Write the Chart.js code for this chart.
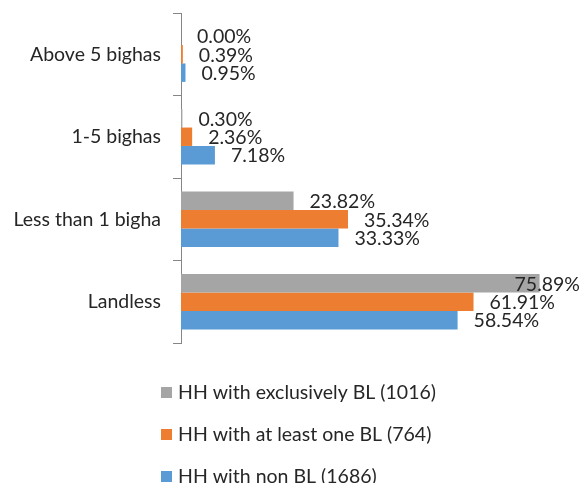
<!DOCTYPE html>
<html>
<head>
<meta charset="utf-8">
<script src="https://cdn.jsdelivr.net/npm/chart.js@4/dist/chart.umd.min.js"></script>
<style>
	html, body { margin:0; padding:0; background:#fff; }
	#box { width:582px; height:483px; position:relative; }
</style>
</head>
<body>
<div id="box"><canvas id="mycanvas"></canvas></div>
<script>
var categories = ["Above 5 bighas", "1-5 bighas", "Less than 1 bigha", "Landless"];
var seriesNames = ["HH with exclusively BL (1016)", "HH with at least one BL (764)", "HH with non BL (1686)"];
var exclusivelyBL = [0.00, 0.30, 23.82, 75.89];
var atLeastOneBL = [0.39, 2.36, 35.34, 61.91];
var nonBL = [0.95, 7.18, 33.33, 58.54];
var colors = ["#A5A5A5", "#ED7D31", "#5B9BD5"];

var FONT = "Lato, 'Liberation Sans', sans-serif";
var FSIZE = 19.5;
var TEXT = "#262626";

// value labels to the right of each bar, kept inside the canvas
var valueLabels = {
	id:'valueLabels',
	afterDatasetsDraw:function(chart){
		var ctx = chart.ctx;
		ctx.save();
		ctx.font = FSIZE + "px " + FONT;
		ctx.fillStyle = TEXT;
		ctx.textBaseline = "middle";
		ctx.textAlign = "left";
		chart.data.datasets.forEach(function(ds, i){
			var meta = chart.getDatasetMeta(i);
			meta.data.forEach(function(bar, j){
				var txt = ds.data[j].toFixed(2) + "%";
				var w = ctx.measureText(txt).width;
				var x = Math.min(bar.x + 16, chart.width - 2 - w);
				ctx.fillText(txt, x, bar.y + 1);
			});
		});
		ctx.restore();
	}
};

// vertical legend under the plot
var stackedLegend = {
	id:'stackedLegend',
	afterDraw:function(chart){
		var ctx = chart.ctx;
		ctx.save();
		ctx.font = FSIZE + "px " + FONT;
		ctx.textBaseline = "middle";
		ctx.textAlign = "left";
		var rows = [392, 434, 476];
		chart.data.datasets.forEach(function(ds, i){
			ctx.fillStyle = ds.backgroundColor;
			ctx.fillRect(161, rows[i] - 5, 11, 11);
			ctx.fillStyle = TEXT;
			ctx.fillText(ds.label, 178, rows[i] + 1);
		});
		ctx.restore();
	}
};

var chartdata = {
	labels:categories,
	datasets:[
		{ label:seriesNames[0], backgroundColor:colors[0], data:exclusivelyBL },
		{ label:seriesNames[1], backgroundColor:colors[1], data:atLeastOneBL },
		{ label:seriesNames[2], backgroundColor:colors[2], data:nonBL }
	]
};

var ctx = document.getElementById("mycanvas");
var barGraph = new Chart(ctx,{
	type:'bar',
	data:chartdata,
	plugins:[valueLabels, stackedLegend],
	options:{
		indexAxis:'y',
		responsive:true,
		maintainAspectRatio:false,
		animation:false,
		layout:{ padding:{ top:13, right:23, bottom:140, left:0 } },
		datasets:{ bar:{ categoryPercentage:0.67, barPercentage:1.0 } },
		plugins:{
			legend:{ display:false },
			tooltip:{ enabled:false }
		},
		scales:{
			x:{
				display:false,
				min:0,
				max:80
			},
			y:{
				afterFit:function(s){
					s.width = 181;
					s.paddingTop = 0;
					s.paddingBottom = 0;
				},
				grid:{ drawOnChartArea:false, tickLength:8, color:"#868686", offset:true },
				border:{ color:"#868686", width:1 },
				ticks:{ color:TEXT, padding:12, font:{ family:FONT, size:FSIZE } }
			}
		}
	}
});
</script>
</body>
</html>
